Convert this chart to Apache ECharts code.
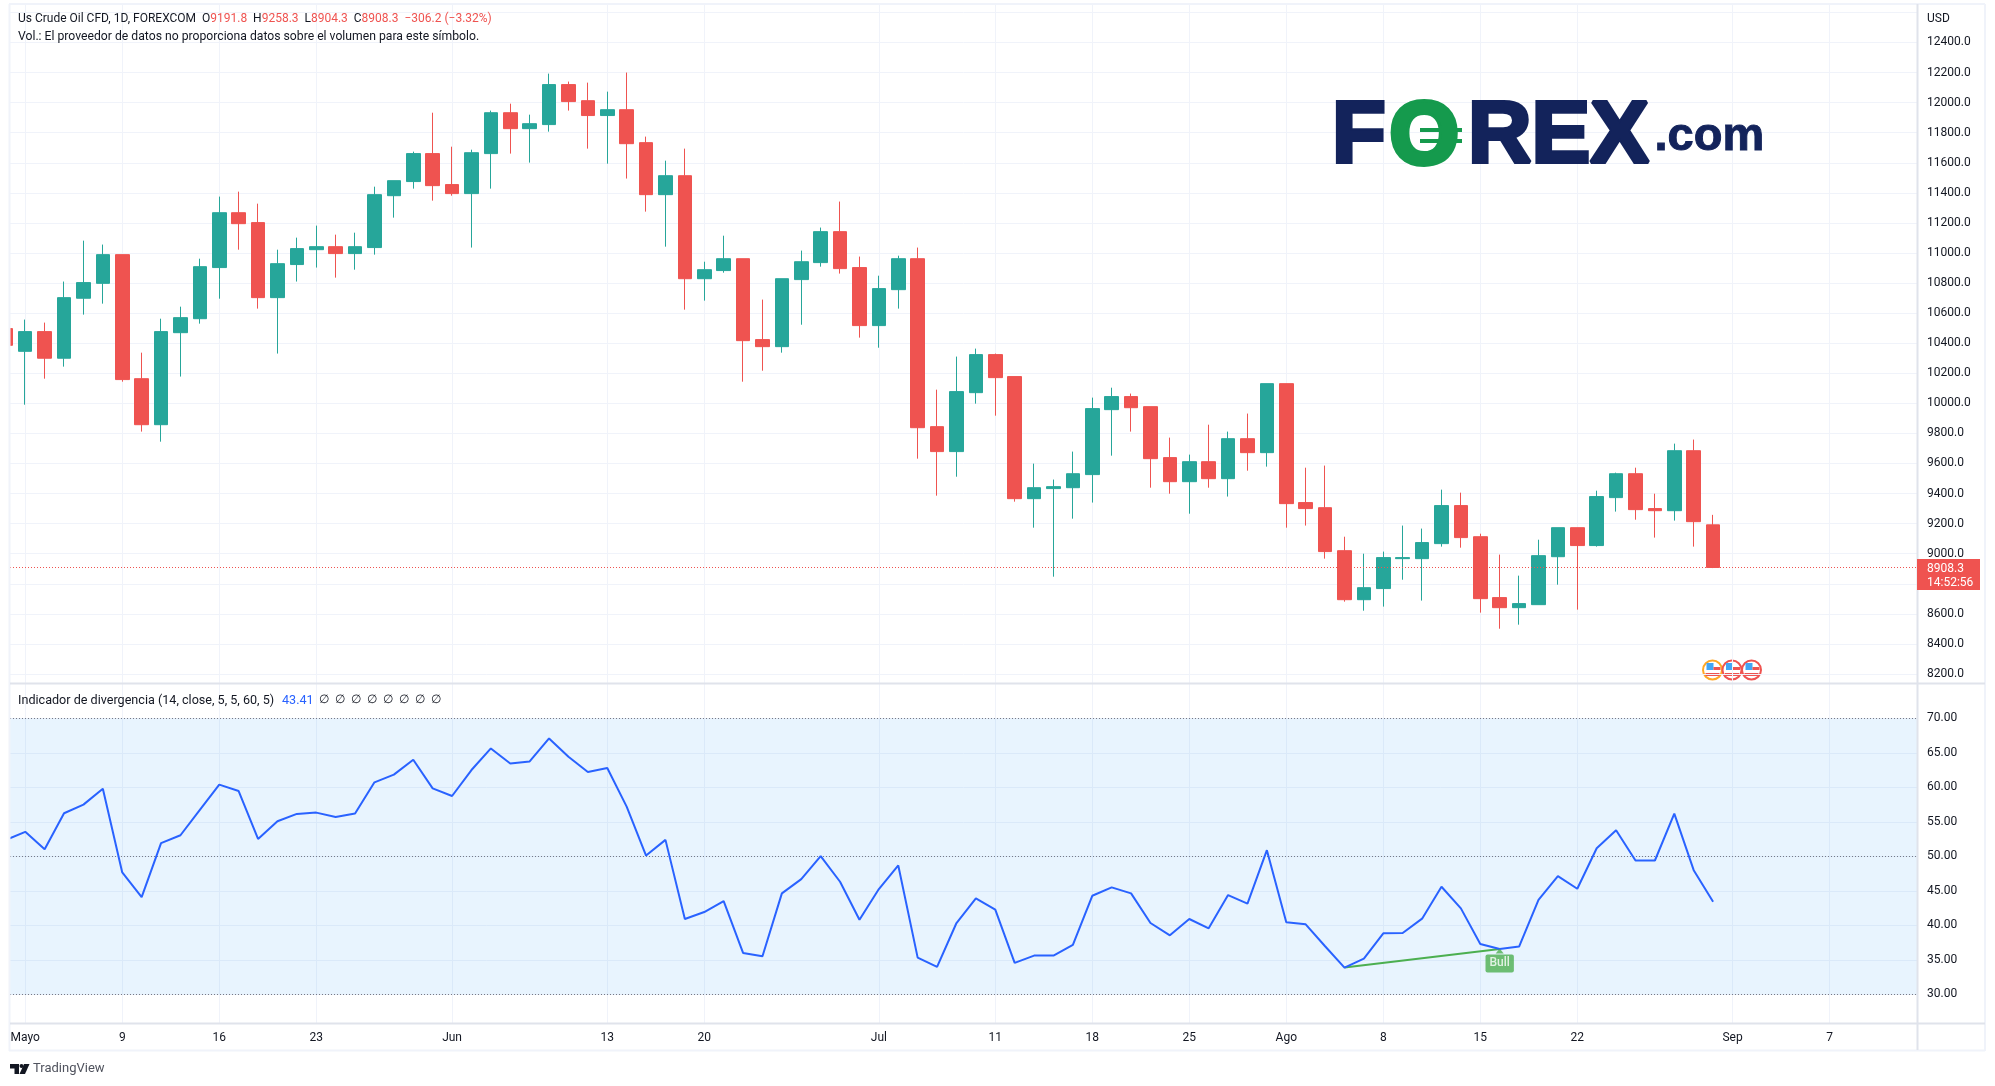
<!DOCTYPE html>
<html>
<head>
<meta charset="utf-8">
<title>Us Crude Oil CFD</title>
<script src="https://cdn.jsdelivr.net/npm/echarts@6/dist/echarts.min.js"></script>
<style>
  html, body { margin: 0; padding: 0; background: #fff; }
  #chart { width: 1995px; height: 1086px; }
</style>
</head>
<body>
<div id="chart"></div>
<script>
// daily candles, index 0 is the clipped one at the left edge
const opens = [10497,10346,10477,10300,10699,10798,10989,10164,9858,10470,
  10563,10903,11268,11202,10703,10923,11022,11042,10996,11036,
  11381,11475,11661,11455,11395,11661,11933,11827,11854,12120,
  12013,11914,11953,11734,11388,11514,10829,10883,10962,10424,
  10377,10823,10936,11142,10903,10517,10756,10962,9845,9679,
  10071,10324,10178,9366,9433,9439,9526,9958,10045,9978,
  9639,9479,9612,9499,9765,9672,10131,9340,9306,9020,
  8694,8768,8967,8967,9067,9320,9113,8708,8641,8661,
  8980,9173,9054,9373,9532,9300,9286,9685,9191.8]
const closes = [10386,10477,10300,10703,10803,10989,10158,9858,10477,10570,
  10909,11268,11195,10703,10929,11029,11042,10996,11042,11388,
  11481,11661,11448,11395,11667,11933,11827,11860,12120,12007,
  11914,11953,11727,11388,11514,10829,10889,10962,10417,10377,
  10829,10942,11142,10896,10517,10763,10962,9838,9679,10078,
  10324,10171,9366,9439,9446,9532,9965,10045,9971,9632,
  9479,9612,9499,9765,9672,10131,9333,9300,9014,8694,
  8774,8974,8974,9074,9320,9107,8701,8641,8668,8987,
  9173,9054,9380,9532,9293,9286,9685,9213,8908.3]
const lows = [10300,9991,10164,10244,10590,10663,10144,9812,9745,10178,
  10530,10696,11022,10630,10331,10810,10903,10836,10889,10989,
  11235,11428,11348,11381,11036,11428,11661,11601,11807,11947,
  11694,11594,11495,11275,11042,10623,10683,10869,10144,10217,
  10337,10523,10909,10863,10437,10370,10630,9632,9386,9512,
  9998,9918,9346,9173,8847,9233,9340,9652,9812,9439,
  9399,9266,9439,9380,9552,9579,9173,9187,8967,8681,
  8621,8648,8827,8688,9047,9040,8608,8501,8528,8661,
  8794,8628,9047,9280,9226,9107,9220,9047,8904.3]
const highs = [10520,10557,10537,10810,11082,11056,10989,10337,10563,10643,
  10962,11375,11408,11328,11022,11102,11182,11122,11135,11441,
  11481,11674,11933,11707,11687,11947,11993,11920,12193,12140,
  12133,12073,12200,11774,11614,11694,10942,11115,10962,10690,
  10829,11016,11169,11342,10976,10849,10982,11036,10091,10311,
  10364,10331,10178,9599,9493,9679,10038,10104,10065,9978,
  9772,9659,9858,9812,9932,10131,10131,9572,9586,9113,
  9000,9014,9187,9167,9426,9406,9133,8994,8854,9093,
  9173,9173,9419,9539,9572,9399,9732,9759,9258.3]

// indicator line, same index as the candles
const rsiValues = [52.4,53.57,51.06,56.27,57.52,59.83,47.69,44.12,51.93,53.08,
  56.75,60.41,59.49,52.55,55.11,56.17,56.36,55.73,56.22,60.75,
  61.86,64.02,59.88,58.77,62.53,65.66,63.49,63.78,67.11,64.46,
  62.24,62.82,57.23,50.14,52.41,40.94,41.95,43.54,36.02,35.54,
  44.65,46.72,50.05,46.34,40.84,45.28,48.7,35.35,34.0,40.36,
  43.93,42.29,34.58,35.64,35.64,37.18,44.31,45.52,44.65,40.36,
  38.58,40.94,39.59,44.41,43.16,50.92,40.46,40.17,36.99,33.9,
  35.2,38.87,38.92,40.99,45.61,42.48,37.33,36.6,36.94,43.73,
  47.16,45.33,51.2,53.81,49.42,49.42,56.22,48.02,43.45]
const divergenceIdx = [69, 77]

const dateIdx = [1,6,11,16,23,31,36,45,51,56,61,66,71,76,81,89,94]
const dateLabels = ['Mayo','9','16','23','Jun','13','20','Jul','11','18','25','Ago','8','15','22','Sep','7']

const priceGrid = [8200,8400,8600,8800,9000,9200,9400,9600,9800,10000,10200,10400,10600,10800,11000,11200,11400,11600,11800,12000,12200,12400,12600]
const priceLabels = priceGrid.filter(v => v !== 8800 && v !== 12600)
const rsiTicks = [30,35,40,45,50,55,60,65,70]
const rsiLevels = [30,50,70]

const lastPrice = 8908.3
const countdown = '14:52:56'
const font = 'Roboto, sans-serif'

const UP = '#26a69a'
const DOWN = '#ef5350'
const BLUE = '#2962ff'
const TEXT = '#131722'
const GRID = '#f0f3fa'
const SEP = '#e0e3eb'

const candleData = opens.map((o, i) => [i, o, closes[i], lows[i], highs[i]])

const label = (left, top, text, extra) => ({
  type: 'text', left, top, silent: true, z: 20,
  style: Object.assign({ text, fill: TEXT, font: '12px ' + font }, extra)
})
const hLine = (x1, x2, y, color) => ({
  type: 'line', silent: true, z: 15,
  shape: { x1, y1: y, x2, y2: y }, style: { stroke: color, lineWidth: 2 }
})
const vLine = (x, y1, y2, color) => ({
  type: 'line', silent: true, z: 15,
  shape: { x1: x, y1, x2: x, y2 }, style: { stroke: color, lineWidth: 2 }
})

// the little US flag event marks under the last candles
const flagMark = (cx, cy, ring) => ({
  type: 'group', x: cx, y: cy, silent: true, z: 18,
  children: [
    { type: 'circle', shape: { cx: 0, cy: 0, r: 9.5 }, style: { fill: '#fff', stroke: ring, lineWidth: 2 } },
    { type: 'rect', shape: { x: -6, y: -7, width: 7, height: 7 }, style: { fill: '#42a5f5' } },
    { type: 'rect', shape: { x: 1, y: -3, width: 7, height: 3 }, style: { fill: '#ef5350' } },
    { type: 'rect', shape: { x: -7, y: 3, width: 14, height: 3 }, style: { fill: '#ef5350' } }
  ]
})

const chart = echarts.init(document.getElementById('chart'), null, { renderer: 'canvas' })

chart.setOption({
  animation: false,
  backgroundColor: '#fff',
  textStyle: { fontFamily: font },
  grid: [
    { left: 10, right: 78, top: 4.6, height: 679.3 },
    { left: 10, right: 78, top: 684, height: 339.3 }
  ],
  xAxis: [
    {
      type: 'value', gridIndex: 0, min: 0.214, max: 98.51,
      axisLine: { show: false },
      axisTick: { show: false, customValues: dateIdx },
      axisLabel: { show: false },
      splitLine: { show: true, lineStyle: { color: GRID, width: 1 } }
    },
    {
      type: 'value', gridIndex: 1, min: 0.214, max: 98.51,
      axisLine: { show: false },
      axisTick: { show: false, customValues: dateIdx },
      axisLabel: {
        show: true, customValues: dateIdx, color: TEXT, fontSize: 12, margin: 9,
        formatter: v => dateLabels[dateIdx.indexOf(v)]
      },
      splitLine: { show: true, lineStyle: { color: GRID, width: 1 } }
    }
  ],
  yAxis: [
    {
      type: 'value', gridIndex: 0, position: 'right', min: 8134, max: 12652,
      axisLine: { show: false },
      axisTick: { show: false, customValues: priceGrid },
      axisLabel: {
        show: true, customValues: priceLabels, color: TEXT, fontSize: 12, margin: 10,
        padding: [2, 0, 0, 0],
        formatter: v => v.toFixed(1)
      },
      splitLine: { show: true, lineStyle: { color: GRID, width: 1 } }
    },
    {
      type: 'value', gridIndex: 1, position: 'right', min: 25.826, max: 75,
      axisLine: { show: false },
      axisTick: { show: false, customValues: rsiTicks },
      axisLabel: {
        show: true, customValues: rsiTicks, color: TEXT, fontSize: 12, margin: 10,
        padding: [3, 0, 0, 0],
        formatter: v => v.toFixed(2)
      },
      splitLine: { show: true, lineStyle: { color: GRID, width: 1 } }
    }
  ],
  series: [
    {
      name: 'Us Crude Oil CFD',
      type: 'candlestick',
      xAxisIndex: 0,
      yAxisIndex: 0,
      barWidth: 14,
      data: candleData,
      itemStyle: { color: UP, color0: DOWN, borderColor: UP, borderColor0: DOWN, borderWidth: 1 },
      markLine: {
        silent: true,
        symbol: 'none',
        label: { show: false },
        lineStyle: { color: DOWN, type: [1, 2], width: 1 },
        data: [{ yAxis: lastPrice }]
      }
    },
    {
      name: 'Indicador de divergencia',
      type: 'line',
      xAxisIndex: 1,
      yAxisIndex: 1,
      showSymbol: false,
      lineStyle: { color: BLUE, width: 2 },
      data: rsiValues.map((v, i) => [i, v]),
      z: 5,
      markArea: {
        silent: true,
        itemStyle: { color: 'rgba(33,150,243,0.1)' },
        data: [[{ yAxis: rsiLevels[0] }, { yAxis: rsiLevels[2] }]]
      },
      markLine: {
        silent: true,
        symbol: 'none',
        label: { show: false },
        lineStyle: { color: '#787b86', type: [1, 2], width: 1 },
        data: rsiLevels.map(v => ({ yAxis: v }))
      }
    },
    {
      name: 'Divergencia',
      type: 'line',
      xAxisIndex: 1,
      yAxisIndex: 1,
      showSymbol: false,
      lineStyle: { color: '#4caf50', width: 2 },
      data: divergenceIdx.map(i => [i, rsiValues[i]]),
      z: 4
    },
    {
      name: 'Bull',
      type: 'scatter',
      xAxisIndex: 1,
      yAxisIndex: 1,
      symbol: 'triangle',
      symbolSize: [8, 5],
      symbolOffset: [0, 2],
      itemStyle: { color: '#4caf50' },
      data: [[divergenceIdx[1], rsiValues[divergenceIdx[1]]]],
      label: {
        show: true, position: 'bottom', distance: 1, formatter: 'Bull',
        color: '#fff', fontSize: 12, fontWeight: 500, backgroundColor: '#4caf50',
        borderRadius: 2, padding: [3, 4]
      },
      z: 6
    }
  ],
  graphic: [
    // covers the part of candle 0 that falls left of the pane
    {
      type: 'rect', silent: true, z: 14,
      shape: { x: 0, y: 0, width: 9, height: 1086 },
      style: { fill: '#fff' }
    },

    // frame and pane separators
    hLine(9, 1985, 4, GRID),
    hLine(9, 1985, 1050.5, GRID),
    vLine(9.5, 4, 1051, GRID),
    vLine(1985, 4, 1051, GRID),
    hLine(10, 1985, 683.5, SEP),
    hLine(10, 1985, 1023.5, SEP),
    vLine(1917.5, 4, 1050, SEP),

    // legend text
    label(18, 13, '', {
      text: '{t|Us Crude Oil CFD, 1D, FOREXCOM  O}{r|9191.8}{t|  H}{r|9258.3}{t|  L}{r|8904.3}{t|  C}{r|8908.3}{r|  \u2212306.2 (\u22123.32%)}',
      rich: {
        t: { fill: TEXT, font: '12px ' + font },
        r: { fill: DOWN, font: '12px ' + font }
      }
    }),
    label(18, 31, 'Vol.: El proveedor de datos no proporciona datos sobre el volumen para este s\u00edmbolo.', { font: '12.2px ' + font }),
    label(18, 694, 'Indicador de divergencia (14, close, 5, 5, 60, 5)', { font: '12.6px ' + font }),
    label(282, 694, '43.41', { fill: BLUE, font: '12.6px ' + font }),
    label(319, 694, '\u2205  \u2205  \u2205  \u2205  \u2205  \u2205  \u2205  \u2205'),
    label(1927, 13, 'USD'),

    // last price tag
    {
      type: 'rect', silent: true, z: 18,
      shape: { x: 1917, y: 559, width: 63, height: 31 },
      style: { fill: DOWN }
    },
    label(1927, 563, String(lastPrice), { fill: '#fff' }),
    label(1927, 577, countdown, { fill: '#fff' }),

    flagMark(1712.5, 670, '#ffa726'),
    flagMark(1732, 670, '#ef5350'),
    flagMark(1751.5, 670, '#ef5350'),

    // FOREX.com watermark
    label(1330, 92, 'F', { fill: '#13235b', font: '900 88px "Liberation Sans"', stroke: '#13235b', lineWidth: 4 }),
    label(1387, 92, 'O', { fill: '#159a4d', font: '900 88px "Liberation Sans"', stroke: '#159a4d', lineWidth: 6 }),
    { type: 'rect', silent: true, z: 21, shape: { x: 1420, y: 128, width: 42, height: 4 }, style: { fill: '#159a4d' } },
    { type: 'rect', silent: true, z: 21, shape: { x: 1420, y: 139, width: 42, height: 4 }, style: { fill: '#159a4d' } },
    label(1466, 92, 'REX', { fill: '#13235b', font: '900 88px "Liberation Sans"', stroke: '#13235b', lineWidth: 4 }),
    label(1654, 113, '.com', { fill: '#13235b', font: '900 47px "Liberation Sans"', stroke: '#13235b', lineWidth: 1 }),

    // TradingView logo
    {
      type: 'polygon', silent: true,
      shape: { points: [[10,1064],[19,1064],[19,1074],[14.5,1074],[14.5,1068.5],[10,1068.5]] },
      style: { fill: TEXT }
    },
    { type: 'circle', silent: true, shape: { cx: 21.5, cy: 1066, r: 2 }, style: { fill: TEXT } },
    {
      type: 'polygon', silent: true,
      shape: { points: [[24,1064],[29.5,1064],[25,1074],[19.5,1074]] },
      style: { fill: TEXT }
    },
    label(33, 1062, 'TradingView', { fill: '#50535e', font: '13px ' + font })
  ]
})
</script>
</body>
</html>
